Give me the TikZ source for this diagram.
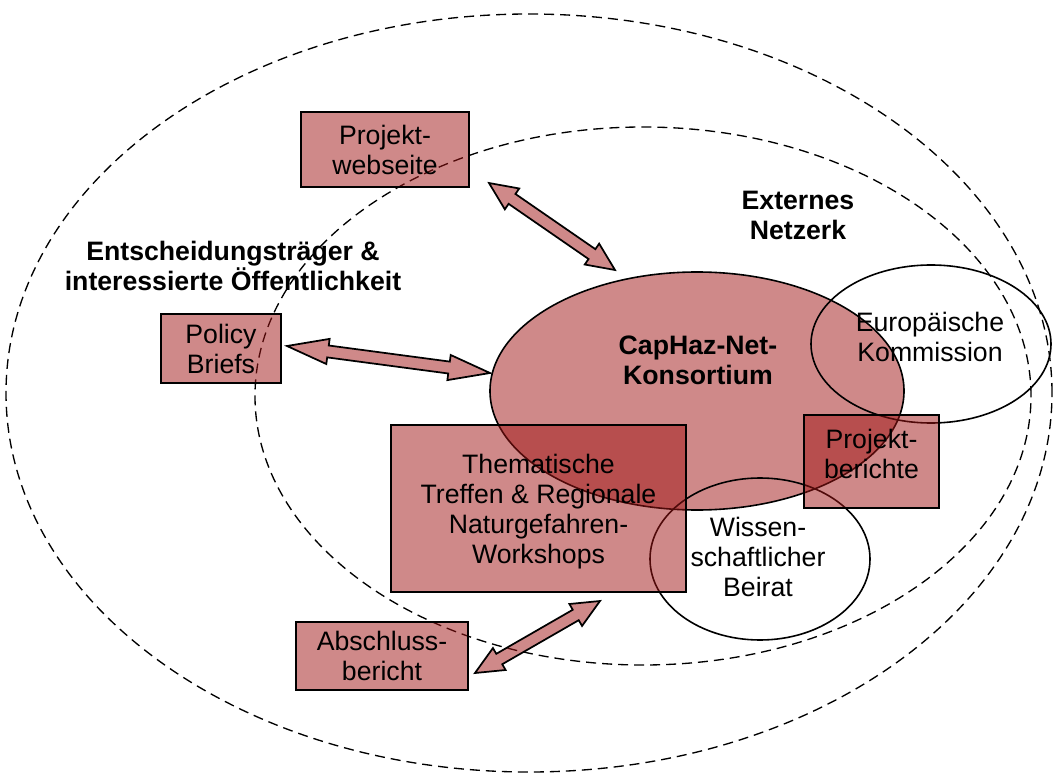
\documentclass[tikz,border=0pt]{standalone}
\usepackage{fontspec}
\setmainfont{Liberation Sans}
\usetikzlibrary{calc,shapes.geometric}

\definecolor{rouge}{RGB}{160,20,20}

% double fleche pleine entre deux points nommes
\newcommand{\doublefleche}[3][21pt]{%
  \path ($(#2)!#1!(#3)$) coordinate (#2-b) ($(#3)!#1!(#2)$) coordinate (#3-b);
  \draw[fleche] (#2)
    -- ($(#2-b)!9.5pt!90:(#3)$) -- ($(#2-b)!4.5pt!90:(#3)$)
    -- ($(#3-b)!4.5pt!-90:(#2)$) -- ($(#3-b)!9.5pt!-90:(#2)$)
    -- (#3)
    -- ($(#3-b)!9.5pt!90:(#2)$) -- ($(#3-b)!4.5pt!90:(#2)$)
    -- ($(#2-b)!4.5pt!-90:(#3)$) -- ($(#2-b)!9.5pt!-90:(#3)$) -- cycle;}

\begin{document}
\begin{tikzpicture}[x=0.75pt,y=-0.75pt,
    boite/.style={draw,line width=1.3pt,fill=rouge,fill opacity=.5,text opacity=1,
      align=center,inner sep=0pt,font=\fontsize{20}{22.5}\selectfont},
    bulle/.style={ellipse,draw,line width=1.2pt,inner sep=0pt},
    pointille/.style={line width=1pt,dash pattern=on 7.5pt off 4.5pt},
    fleche/.style={line width=1.3pt,fill=rouge,fill opacity=.5,line join=miter},
    titre/.style={align=center,font=\bfseries\fontsize{20}{22.5}\selectfont},
    texte/.style={align=center,font=\fontsize{20}{22.5}\selectfont}]
  \useasboundingbox (0,0) rectangle (1054,774);

  % les deux cercles en pointilles
  \draw[pointille] (529,393) ellipse [x radius=392.25pt,y radius=284.25pt];
  \draw[pointille] (643,396) ellipse [x radius=291pt,y radius=201.75pt];

  % consortium et cercles
  \node[bulle,fill=rouge,fill opacity=.5,minimum width=310.5pt,minimum height=178.5pt] (konsortium) at (697,391) {};
  \node[bulle,minimum width=180pt,minimum height=118.5pt] (kommission) at (931,344) {};
  \node[bulle,minimum width=165pt,minimum height=121.5pt] (beirat) at (760,559) {};

  % les boites
  \node[boite,minimum width=126pt,minimum height=56.25pt] (webseite) at (385,149.5) {Projekt-\\webseite};
  \node[boite,minimum width=90pt,minimum height=51.75pt] (policy) at (221,348.5) {Policy\\Briefs};
  \node[boite,minimum width=221.25pt,minimum height=125.25pt] (treffen) at (538.5,508.5) {};
  \node[texte] (treffentxt) at (538.5,512) {Thematische\\Treffen \& Regionale\\Naturgefahren-\\Workshops};
  \node[boite,minimum width=101.25pt,minimum height=69.75pt] (berichte) at (871.5,461.5) {};
  \node[texte] (berichtetxt) at (871.5,454) {Projekt-\\berichte};
  \node[boite,minimum width=129pt,minimum height=51pt] (abschluss) at (382,656) {Abschluss-\\bericht};

  % textes
  \node[titre] (konsortiumtxt) at (698,360) {CapHaz-Net-\\Konsortium};
  \node[texte] (kommissiontxt) at (930,337) {Europ\"aische\\Kommission};
  \node[texte] (beirattxt) at (758,557) {Wissen-\\schaftlicher\\Beirat};
  \node[titre] (extern) at (798,215) {Externes\\Netzerk};
  \node[titre] (public) at (233,266) {Entscheidungstr\"ager \&\\interessierte \"Offentlichkeit};

  % fleches
  \coordinate (f1a) at (489,183);
  \coordinate (f1b) at (615,270);
  \coordinate (f2a) at (287,346);
  \coordinate (f2b) at (490,373);
  \coordinate (f3a) at (600,601);
  \coordinate (f3b) at (475,673);
  \doublefleche{f1a}{f1b}
  \doublefleche[31pt]{f2a}{f2b}
  \doublefleche{f3a}{f3b}
\end{tikzpicture}
\end{document}
